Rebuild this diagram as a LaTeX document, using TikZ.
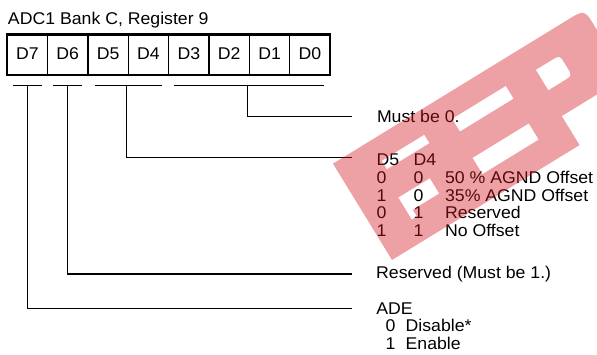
\documentclass[tikz,border=0pt]{standalone}
\usepackage{fontspec}
\setmainfont{Liberation Sans}[FakeStretch=1.04]
\definecolor{wmred}{RGB}{210,20,30}
\begin{document}
\begin{tikzpicture}[x=1pt,y=-1pt,
  every node/.style={font=\fontsize{17}{17.75}\selectfont},
  cell/.style={draw,line width=1.2pt,minimum width=40.375pt,minimum height=40.7pt,
    inner sep=0pt,outer sep=0pt,anchor=center,text height=12pt,text depth=3pt},
  txt/.style={inner sep=0pt,anchor=base west},
  conn/.style={line width=1.1pt},
  brk/.style={line width=1.1pt},
  wm/.style={fill=wmred,fill opacity=0.4}]
\useasboundingbox (0,0) rectangle (597,354);

% title
\node[txt] (title) at (7.8,24) {ADC1 Bank C, Register 9};

% register cells
\foreach \i/\x in {7/27.39,6/67.76,5/108.14,4/148.51,3/188.89,2/229.26,1/269.64,0/310.01}
  \node[cell] (d\i) at (\x,54.85) {D\i};
\draw[line width=2.3pt] (d7.north west) rectangle (d0.south east);

% bracket coordinates
\coordinate (b7l) at (13.3,85.7);  \coordinate (b7r) at (41.7,85.7);  \coordinate (b7m) at (27.3,85.7);
\coordinate (b6l) at (53.3,85.7);  \coordinate (b6r) at (81.7,85.7);  \coordinate (b6m) at (67.7,85.7);
\coordinate (b54l) at (95,85.7);   \coordinate (b54r) at (162.3,85.7); \coordinate (b54m) at (126.7,85.7);
\coordinate (b30l) at (174,85.7);  \coordinate (b30r) at (324,85.7);  \coordinate (b30m) at (247.3,85.7);
\coordinate (e30) at (351.7,116.7);
\coordinate (e54) at (351.7,157.5);
\coordinate (e6)  at (351.7,274);
\coordinate (e7)  at (351.7,308.3);

\draw[brk] (b7l) -- (b7r);
\draw[brk] (b6l) -- (b6r);
\draw[brk] (b54l) -- (b54r);
\draw[brk] (b30l) -- (b30r);

\draw[conn] (b30m) |- (e30);
\draw[conn] (b54m) |- (e54);
\draw[conn] (b6m) |- (e6);
\draw[conn] (b7m) |- (e7);

% texts
\node[txt] (must) at (376.8,122.7) {Must be 0.};
\node[txt] (tab) at (376.4,165.7) {\begin{tabular}[t]{@{}p{37pt}@{}p{31.5pt}@{}l@{}}
D5&D4&\\
0&0&50 \% AGND Offset\\
1&0&35\% AGND Offset\\
0&1&Reserved\\
1&1&No Offset
\end{tabular}};
\node[txt] (res) at (376,278.4) {Reserved (Must be 1.)};
\node[txt] (ade) at (376.2,314) {\begin{tabular}[t]{@{}l@{}}
ADE\\
\hspace*{9.3pt}\makebox[20pt][l]{0}Disable*\\
\hspace*{9.3pt}\makebox[20pt][l]{1}Enable
\end{tabular}};

% watermark
\begin{scope}[shift={(392,260)}, x={(0.8526pt,0.5225pt)}, y={(-0.5225pt,0.8526pt)}]
  \fill[wm, even odd rule]
    (0,0) -- (220,0) -- (220,34) -- (275,34) .. controls (295,34) .. (295,54)
      -- (295,93) .. controls (295,113) .. (275,113) -- (0,113) -- cycle
    (38,24) -- (44,24) -- (44,32) -- (75,32) -- (75,50) -- (38,50) -- cycle
    (43,80) -- (93,80) -- (93,90) -- (43,90) -- cycle
    (122,26) -- (188,26) -- (188,45) -- (122,45) -- cycle
    (125,74) -- (188,74) -- (188,89) -- (125,89) -- cycle
    (222,63) -- (240,63) .. controls (250,63) .. (250,73) -- (250,77)
      .. controls (250,87) .. (240,87) -- (222,87) -- cycle;
\end{scope}
\end{tikzpicture}
\end{document}
